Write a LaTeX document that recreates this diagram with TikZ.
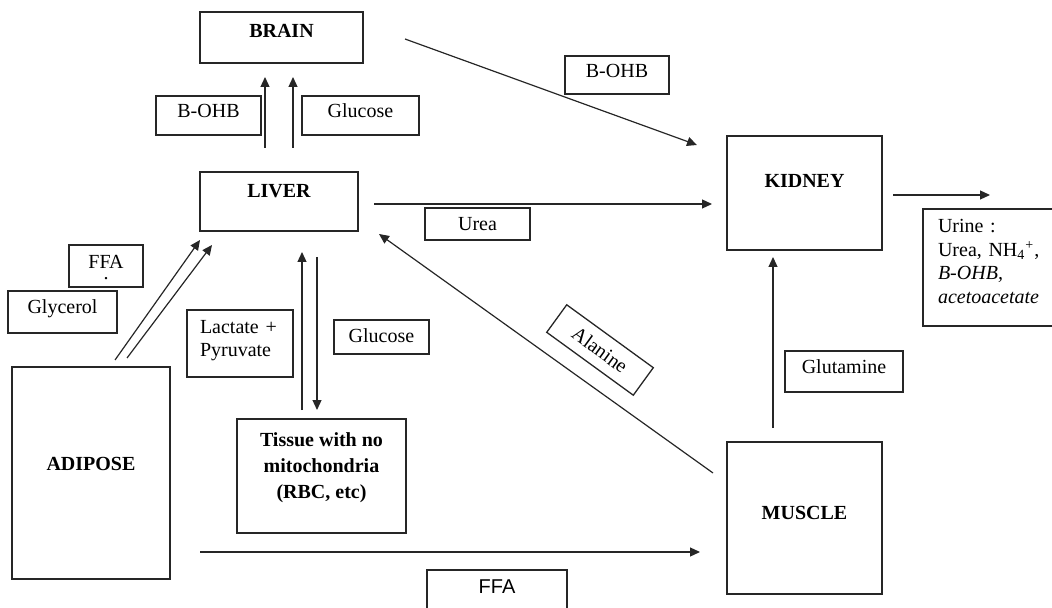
\documentclass[tikz,border=0pt]{standalone}
\usepackage{fontspec}
\setmainfont{Liberation Serif}
\newfontfamily\sansfont{Liberation Sans}
\usetikzlibrary{arrows.meta}

\begin{document}
\begin{tikzpicture}[x=0.5pt, y=-0.5pt, font=\fontsize{10}{11.5}\selectfont,
  organ/.style={draw=black!85, line width=0.65pt, inner sep=0pt, outer sep=0pt, anchor=north west, font=\fontsize{10}{13}\selectfont\bfseries},
  tag/.style={draw=black!85, line width=0.65pt, inner sep=0pt, outer sep=0pt, anchor=north west},
  arr/.style={-{Triangle[length=5pt,width=4.5pt]}, line width=0.6pt, black!85}]
  \useasboundingbox (0,0) rectangle (1052,608);

  % Organs
  \node[organ, minimum width=81.5pt, text height=13pt, text depth=12.5pt] (brain) at (200,12) {BRAIN};
  \node[organ, minimum width=79pt, text height=13pt, text depth=16.5pt] (liver) at (200,172) {LIVER};
  \node[organ, minimum width=77.5pt, text height=26pt, text depth=31pt] (kidney) at (727,136) {KIDNEY};
  \node[organ, minimum width=77.5pt, text height=38.5pt, text depth=37.5pt] (muscle) at (727,442) {MUSCLE};
  \node[organ, minimum width=79pt, text height=51.5pt, text depth=54.5pt] (adipose) at (12,367) {ADIPOSE};
  \node[organ, minimum width=84.5pt, text height=39.5pt, text depth=17.5pt, align=center] (tissue) at (237,419) {Tissue with no\\mitochondria\\(RBC, etc)};

  % Metabolite labels
  \node[tag, minimum width=52.5pt, text height=11pt, text depth=8.5pt] (bohbL) at (156,96) {B-OHB};
  \node[tag, minimum width=58.5pt, text height=11pt, text depth=8.5pt] (glucoseT) at (302,96) {Glucose};
  \node[tag, minimum width=52pt, text height=11pt, text depth=8pt] (bohbR) at (565,56) {B-OHB};
  \node[tag, minimum width=52.5pt, text height=11.5pt, text depth=4.5pt] (urea) at (425,208) {Urea};
  \node[tag, inner xsep=7.5pt, text width=57pt, align=left, text height=12pt, text depth=46.5pt, font=\fontsize{10}{11.75}\selectfont] (urine) at (923,209) {Urine :\\Urea, NH\textsubscript{4}\textsuperscript{+},\\\textit{B-OHB,}\\\textit{acetoacetate}};
  \node[tag, minimum width=37pt, text height=17.5pt, text depth=3.5pt, align=center] (ffaL) at (69,245) {FFA\\[-6pt].};
  \node[tag, minimum width=54.5pt, text height=11.5pt, text depth=9.5pt] (glycerol) at (8,291) {Glycerol};
  \node[tag, inner xsep=6.5pt, text width=40pt, align=left, text height=12pt, text depth=21.5pt] (lactate) at (187,310) {Lactate +\\Pyruvate};
  \node[tag, minimum width=47.5pt, text height=11.5pt, text depth=5.5pt] (glucoseM) at (334,320) {Glucose};
  \node[tag, minimum width=59pt, text height=11pt, text depth=9.5pt] (glutamine) at (785,351) {Glutamine};
  \node[tag, minimum width=70pt, text height=11.5pt, text depth=10pt, font=\fontsize{10}{11.5}\sansfont] (ffaB) at (427,570) {FFA};
  \node[draw=black!85, line width=0.65pt, inner sep=0pt, rotate=-36, minimum width=53.5pt, minimum height=17pt] (alanine) at (600,350) {Alanine};

  % Fluxes
  \draw[arr] ([shift={(-14,-24)}]liver.north) -- ([shift={(-16.5,14)}]brain.south);
  \draw[arr] ([shift={(14,-24)}]liver.north) -- ([shift={(11.5,14)}]brain.south);
  \draw[arr] ([shift={(42,1.5)}]brain.east) -- ([shift={(-30,9)}]kidney.north west);
  \draw[arr] ([shift={(16,2.5)}]liver.east) -- ([shift={(-15,11)}]kidney.west);
  \draw[arr] ([shift={(11,2)}]kidney.east) -- ([shift={(67,-14)}]urine.north west);
  \draw[arr] ([shift={(-31.5,-14)}]muscle.north) -- ([shift={(-31.5,7)}]kidney.south);
  \draw[arr] ([shift={(-14,31)}]muscle.north west) -- ([shift={(21,3)}]liver.south east);
  \draw[arr] ([shift={(24,-7)}]adipose.north) -- ([shift={(0,9)}]liver.south west);
  \draw[arr] ([shift={(36,-9)}]adipose.north) -- ([shift={(12,14)}]liver.south west);
  \draw[arr] ([shift={(-19.5,-9)}]tissue.north) -- ([shift={(23,21)}]liver.south);
  \draw[arr] ([shift={(38,26)}]liver.south) -- ([shift={(-4.5,-9)}]tissue.north);
  \draw[arr] ([shift={(30,79)}]adipose.east) -- ([shift={(-27,34)}]muscle.west);
\end{tikzpicture}
\end{document}
